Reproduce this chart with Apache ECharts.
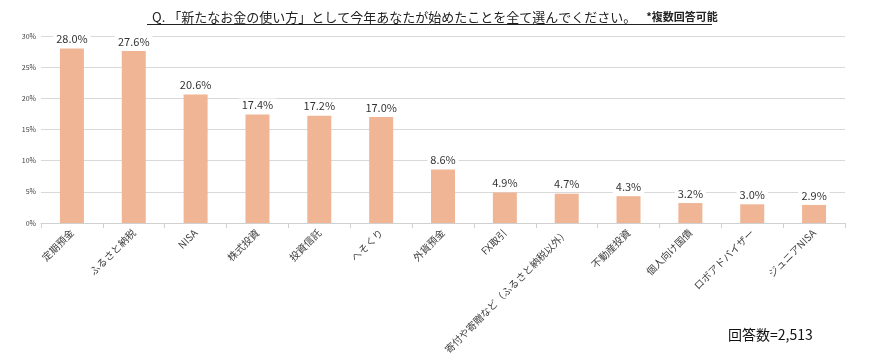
<!DOCTYPE html>
<html><head><meta charset="utf-8">
<script src="https://cdn.jsdelivr.net/npm/echarts@6/dist/echarts.min.js"></script>
<style>html,body{margin:0;padding:0;background:#fff}#c{width:881px;height:362px}</style>
</head><body><div id="c"></div>
<script>
const categories = ['定期預金','ふるさと納税','NISA','株式投資','投資信託','へそくり','外貨預金','FX取引','寄付や寄贈など（ふるさと納税以外）','不動産投資','個人向け国債','ロボアドバイザー','ジュニアNISA'];
const values = [28.0,27.6,20.6,17.4,17.2,17.0,8.6,4.9,4.7,4.3,3.2,3.0,2.9];
const yTicks = [0,5,10,15,20,25,30];
const titleMain = 'Q. 「新たなお金の使い方」として今年あなたが始めたことを全て選んでください。';
const titleNote = '*複数回答可能';
const footnote = '回答数=2,513';

const FONT = '"Noto Sans CJK JP", sans-serif';
const chart = echarts.init(document.getElementById('c'));
chart.setOption({
  animation:false,
  backgroundColor:'#fff',
  title:{
    text:'{a|'+titleMain+'}  {b|'+titleNote+'}',
    left:147, top:3,
    textStyle:{fontWeight:'normal',rich:{
      a:{fontFamily:FONT,fontSize:13,fontWeight:'normal',color:'#222'},
      b:{fontFamily:FONT,fontSize:11,fontWeight:'bold',color:'#222'}
    }}
  },
  graphic:[
    {type:'line',shape:{x1:147,y1:24.5,x2:712,y2:24.5},style:{stroke:'#222',lineWidth:1}},
    {type:'text',left:728,top:328,style:{text:footnote,font:'14px '+FONT,fill:'#111'}}
  ],
  grid:{left:41,right:36,top:36,bottom:139,containLabel:false},
  xAxis:{
    type:'category',data:categories,
    axisLine:{lineStyle:{color:'#d0d0d0'}},
    axisTick:{show:true,length:5,lineStyle:{color:'#d0d0d0'}},
    axisLabel:{rotate:45,interval:0,fontFamily:FONT,fontSize:10,color:'#404040',margin:8}
  },
  yAxis:{
    type:'value',min:0,max:30,interval:5,
    axisLine:{show:false},axisTick:{show:false},
    splitLine:{lineStyle:{color:'#d9d9d9'}},
    axisLabel:{formatter:v=>yTicks.includes(v)?v+'%':'',fontFamily:FONT,fontSize:7,color:'#404040',margin:5}
  },
  series:[{
    type:'bar',data:values,barWidth:24,
    itemStyle:{color:'#F0B594'},
    label:{show:true,position:'top',distance:3,formatter:p=>p.value.toFixed(1)+'%',
      fontFamily:FONT,fontSize:11,color:'#333',backgroundColor:'#fff',padding:[1,3]}
  }]
});
</script></body></html>
